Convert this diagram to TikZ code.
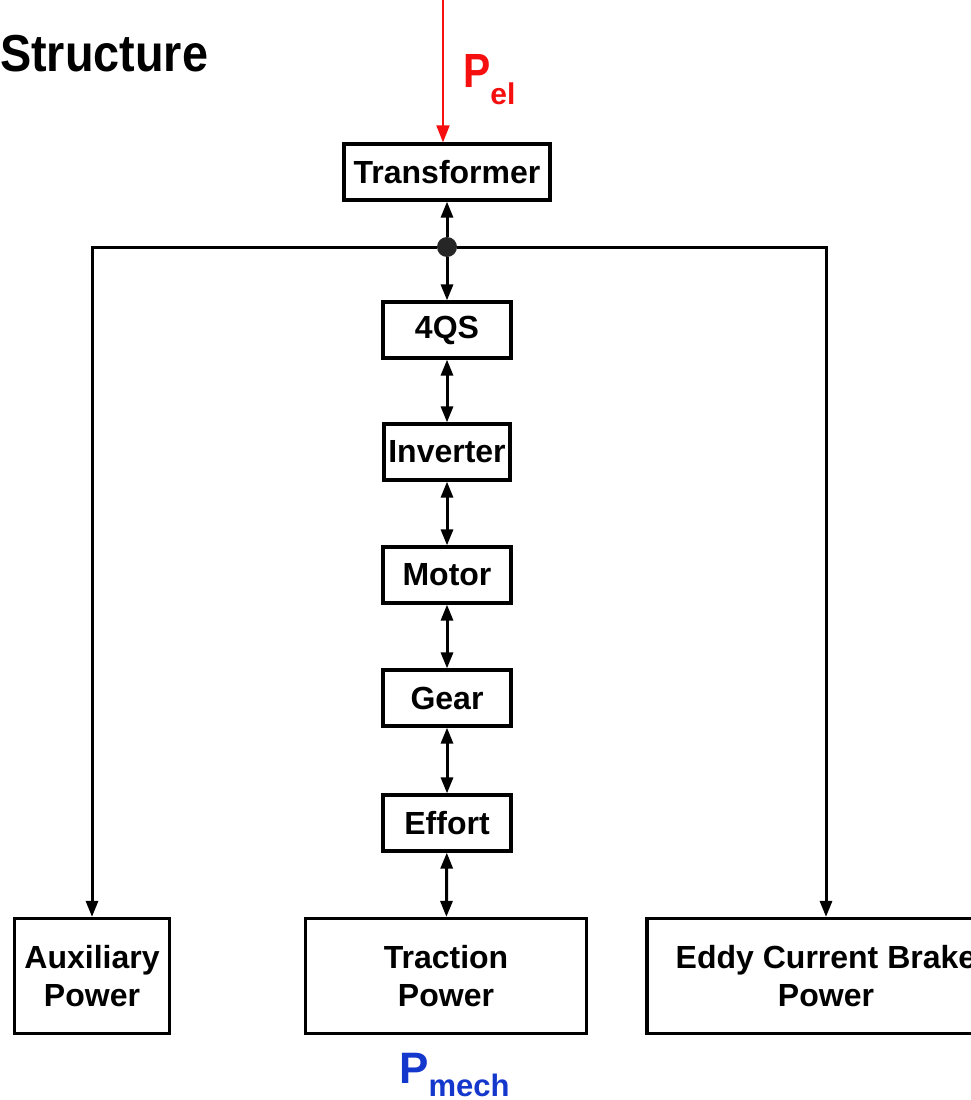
\documentclass[tikz,border=0pt]{standalone}
\usepackage{fontspec}
\setmainfont{Liberation Sans}
\usetikzlibrary{arrows.meta, positioning}
\definecolor{pelred}{HTML}{F50F0F}
\definecolor{pmechblue}{HTML}{1438CC}

\begin{document}
\begin{tikzpicture}[x=1pt, y=-1pt,
      block/.style={rectangle, draw=black, line width=3.2pt, fill=white, align=center, inner sep=0pt, font=\fontsize{32}{38}\selectfont\bfseries},
      small/.style={block, minimum width=128pt, minimum height=56pt},
      big/.style={block, minimum height=115pt},
      junction/.style={circle, fill=black!85, inner sep=0pt, minimum size=20pt},
      arrow/.style={-{Triangle[length=16pt, width=12pt]}, line width=3pt, black},
      biarrow/.style={{Triangle[length=16pt, width=12pt]}-{Triangle[length=16pt, width=12pt]}, line width=3pt, black},
      pelarrow/.style={-{Triangle[length=17pt, width=13pt]}, line width=2pt, pelred},
    ]
    \useasboundingbox (0,0) rectangle (971,1100);

    \node[anchor=base west, inner sep=0pt, font=\fontsize{52}{52}\selectfont\bfseries] (title) at (0,71) {\scalebox{0.9}[1]{Structure}};

    \node[block, minimum width=206pt, minimum height=56pt] (trafo) at (447,172) {Transformer};
    \node[junction] (jn) at (447,247) {};
    \node[small] (qs) at (447,330) {4QS};
    \node[small, minimum width=126pt] (inv) at (447,452) {Inverter};
    \node[small] (motor) at (447,575) {Motor};
    \node[small] (gear) at (447,698) {Gear};
    \node[small] (effort) at (447,823) {Effort};

    \node[big, minimum width=155pt] (aux) at (92,976) {Auxiliary\\Power};
    \node[big, minimum width=281pt] (traction) at (446,976) {Traction\\Power};
    \node[big, minimum width=358pt] (eddy) at (826,976) {Eddy Current Brake\\Power};

    % power labels
    \coordinate (pin) at (443,0);
    \node[anchor=base west, inner sep=0pt, text=pelred, font=\fontsize{48}{48}\selectfont\bfseries] (pel) at (463,87) {\scalebox{0.85}[1]{P}\raisebox{-17pt}{\fontsize{30}{30}\selectfont el}};
    \node[anchor=base west, inner sep=0pt, text depth=0pt, text=pmechblue, font=\fontsize{44}{44}\selectfont\bfseries] (pmech) at (399,1083) {P\raisebox{-13pt}{\fontsize{31}{31}\selectfont mech}};

    \draw[pelarrow] (pin) -- (pin |- trafo.north);
    \draw[arrow] (jn) -- (trafo);
    \draw[arrow] (jn) -- (qs);
    \draw[arrow] (jn) -| (aux);
    \draw[arrow] (jn) -| (eddy);
    \draw[biarrow] (qs) -- (inv);
    \draw[biarrow] (inv) -- (motor);
    \draw[biarrow] (motor) -- (gear);
    \draw[biarrow] (gear) -- (effort);
    \draw[biarrow] (effort) -- (traction);
  \end{tikzpicture}
\end{document}
